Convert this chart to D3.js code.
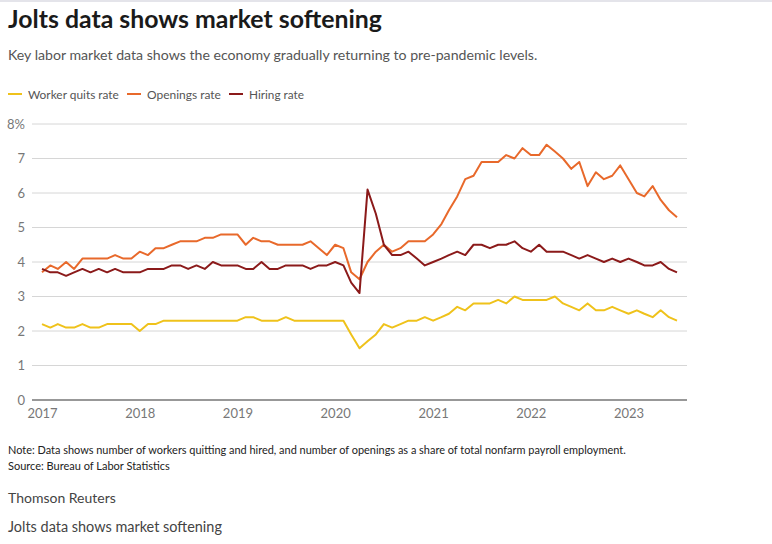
<!DOCTYPE html>
<html><head><meta charset="utf-8">
<script src="https://cdn.jsdelivr.net/npm/d3@7"></script>
<style>
body{margin:0;background:#fff;}
svg{display:block;font-family:Lato,"Open Sans",sans-serif;}
</style></head>
<body><svg id="c" width="772" height="544"></svg>
<script>
const startMonth = "2017-01";
const quits = [
 2.2,2.1,2.2,2.1,2.1,2.2,2.1,2.1,2.2,2.2,2.2,2.2,
 2.0,2.2,2.2,2.3,2.3,2.3,2.3,2.3,2.3,2.3,2.3,2.3,
 2.3,2.4,2.4,2.3,2.3,2.3,2.4,2.3,2.3,2.3,2.3,2.3,
 2.3,2.3,1.9,1.5,1.7,1.9,2.2,2.1,2.2,2.3,2.3,2.4,
 2.3,2.4,2.5,2.7,2.6,2.8,2.8,2.8,2.9,2.8,3.0,2.9,
 2.9,2.9,2.9,3.0,2.8,2.7,2.6,2.8,2.6,2.6,2.7,2.6,
 2.5,2.6,2.5,2.4,2.6,2.4,2.3];
const openings = [
 3.7,3.9,3.8,4.0,3.8,4.1,4.1,4.1,4.1,4.2,4.1,4.1,
 4.3,4.2,4.4,4.4,4.5,4.6,4.6,4.6,4.7,4.7,4.8,4.8,
 4.8,4.5,4.7,4.6,4.6,4.5,4.5,4.5,4.5,4.6,4.4,4.2,
 4.5,4.4,3.7,3.5,4.0,4.3,4.5,4.3,4.4,4.6,4.6,4.6,
 4.8,5.1,5.5,5.9,6.4,6.5,6.9,6.9,6.9,7.1,7.0,7.3,
 7.1,7.1,7.4,7.2,7.0,6.7,6.9,6.2,6.6,6.4,6.5,6.8,
 6.4,6.0,5.9,6.2,5.8,5.5,5.3];
const hiring = [
 3.8,3.7,3.7,3.6,3.7,3.8,3.7,3.8,3.7,3.8,3.7,3.7,
 3.7,3.8,3.8,3.8,3.9,3.9,3.8,3.9,3.8,4.0,3.9,3.9,
 3.9,3.8,3.8,4.0,3.8,3.8,3.9,3.9,3.9,3.8,3.9,3.9,
 4.0,3.9,3.4,3.1,6.1,5.4,4.5,4.2,4.2,4.3,4.1,3.9,
 4.0,4.1,4.2,4.3,4.2,4.5,4.5,4.4,4.5,4.5,4.6,4.4,
 4.3,4.5,4.3,4.3,4.3,4.2,4.1,4.2,4.1,4.0,4.1,4.0,
 4.1,4.0,3.9,3.9,4.0,3.8,3.7];
const seriesNames = ["Worker quits rate","Openings rate","Hiring rate"];
const seriesColors = ["#EFC21B","#E8692B","#8B1A1A"];
const yTicks = [0,1,2,3,4,5,6,7,8];
const xTickYears = [2017,2018,2019,2020,2021,2022,2023];
const title = "Jolts data shows market softening";
const subtitle = "Key labor market data shows the economy gradually returning to pre-pandemic levels.";
const note = "Note: Data shows number of workers quitting and hired, and number of openings as a share of total nonfarm payroll employment.";
const source = "Source: Bureau of Labor Statistics";
const credit = "Thomson Reuters";
const footerTitle = "Jolts data shows market softening";

const svg = d3.select("#c");
const parse = d3.timeParse("%Y-%m");
const t0 = parse(startMonth);
const dates = quits.map((_,i)=>d3.timeMonth.offset(t0,i));
const x = d3.scaleTime().domain([t0, dates[dates.length-1]]).range([42,677]);
const y = d3.scaleLinear().domain([0,8]).range([400,124]);

svg.append("rect").attr("x",0).attr("y",0).attr("width",772).attr("height",2).attr("fill","#e4e4ea");

function fitText(sel, w){
  const n = sel.node(); const L = n.getComputedTextLength();
  const fs = parseFloat(sel.attr("font-size"));
  sel.attr("font-size", fs*w/L);
}
const tt = svg.append("text").attr("x",8).attr("y",28).attr("font-size",24).attr("font-weight",700).attr("fill","#1a1a1a").text(title);
fitText(tt,374);
const st = svg.append("text").attr("x",8).attr("y",60).attr("font-size",14).attr("fill","#555").text(subtitle);
fitText(st,530);

// legend
const legX = [8,127,229];
const legW = [91,74,55];
seriesNames.forEach((n,i)=>{
  svg.append("line").attr("x1",legX[i]).attr("x2",legX[i]+14).attr("y1",94).attr("y2",94)
    .attr("stroke",seriesColors[i]).attr("stroke-width",2);
  const lt = svg.append("text").attr("x",legX[i]+20).attr("y",98.5).attr("font-size",13).attr("fill","#555").text(n);
  fitText(lt, legW[i]);
});

// grid
const g = svg.append("g");
g.selectAll("line.grid").data(yTicks.filter(d=>d>0)).join("line")
  .attr("x1",32).attr("x2",687).attr("y1",d=>y(d)).attr("y2",d=>y(d))
  .attr("stroke","#d6d6d6").attr("stroke-width",1);
g.append("line").attr("x1",32).attr("x2",687).attr("y1",y(0)).attr("y2",y(0)).attr("stroke","#333").attr("stroke-width",1.2);

// y axis labels
const yAxis = d3.axisLeft(y).tickValues(yTicks).tickSize(0).tickFormat(d=>d===8?"8%":d);
const ya = svg.append("g").attr("transform","translate(25,0)").call(yAxis);
ya.select(".domain").remove();
ya.selectAll("text").attr("font-size",13).attr("fill","#777").attr("font-family","Lato,sans-serif").attr("x",0);

// x axis
const xAxis = d3.axisBottom(x).tickValues(xTickYears.map(yr=>new Date(yr,0,1))).tickSize(0).tickFormat(d3.timeFormat("%Y"));
const xa = svg.append("g").attr("transform","translate(0,400)").call(xAxis);
xa.select(".domain").remove();
xa.selectAll("line").remove();
xa.selectAll("text").attr("font-size",13).attr("fill","#777").attr("font-family","Lato,sans-serif").attr("dy","0.95em").attr("y",6);

// lines
const line = d3.line().x((d,i)=>x(dates[i])).y(d=>y(d)).curve(d3.curveLinear);
[quits,openings,hiring].forEach((s,i)=>{
  svg.append("path").datum(s).attr("d",line).attr("fill","none")
    .attr("stroke",seriesColors[i]).attr("stroke-width",2).attr("stroke-linejoin","round");
});

// footer
const nt = svg.append("text").attr("x",8).attr("y",454).attr("font-size",11).attr("fill","#222").text(note);
fitText(nt,619);
svg.append("text").attr("x",8).attr("y",470).attr("font-size",11).attr("fill","#222").text(source);
svg.append("text").attr("x",8).attr("y",503).attr("font-size",14).attr("fill","#444").text(credit);
const ft = svg.append("text").attr("x",8).attr("y",532).attr("font-size",14).attr("fill","#444").text(footerTitle);
fitText(ft,214);
</script></body></html>
